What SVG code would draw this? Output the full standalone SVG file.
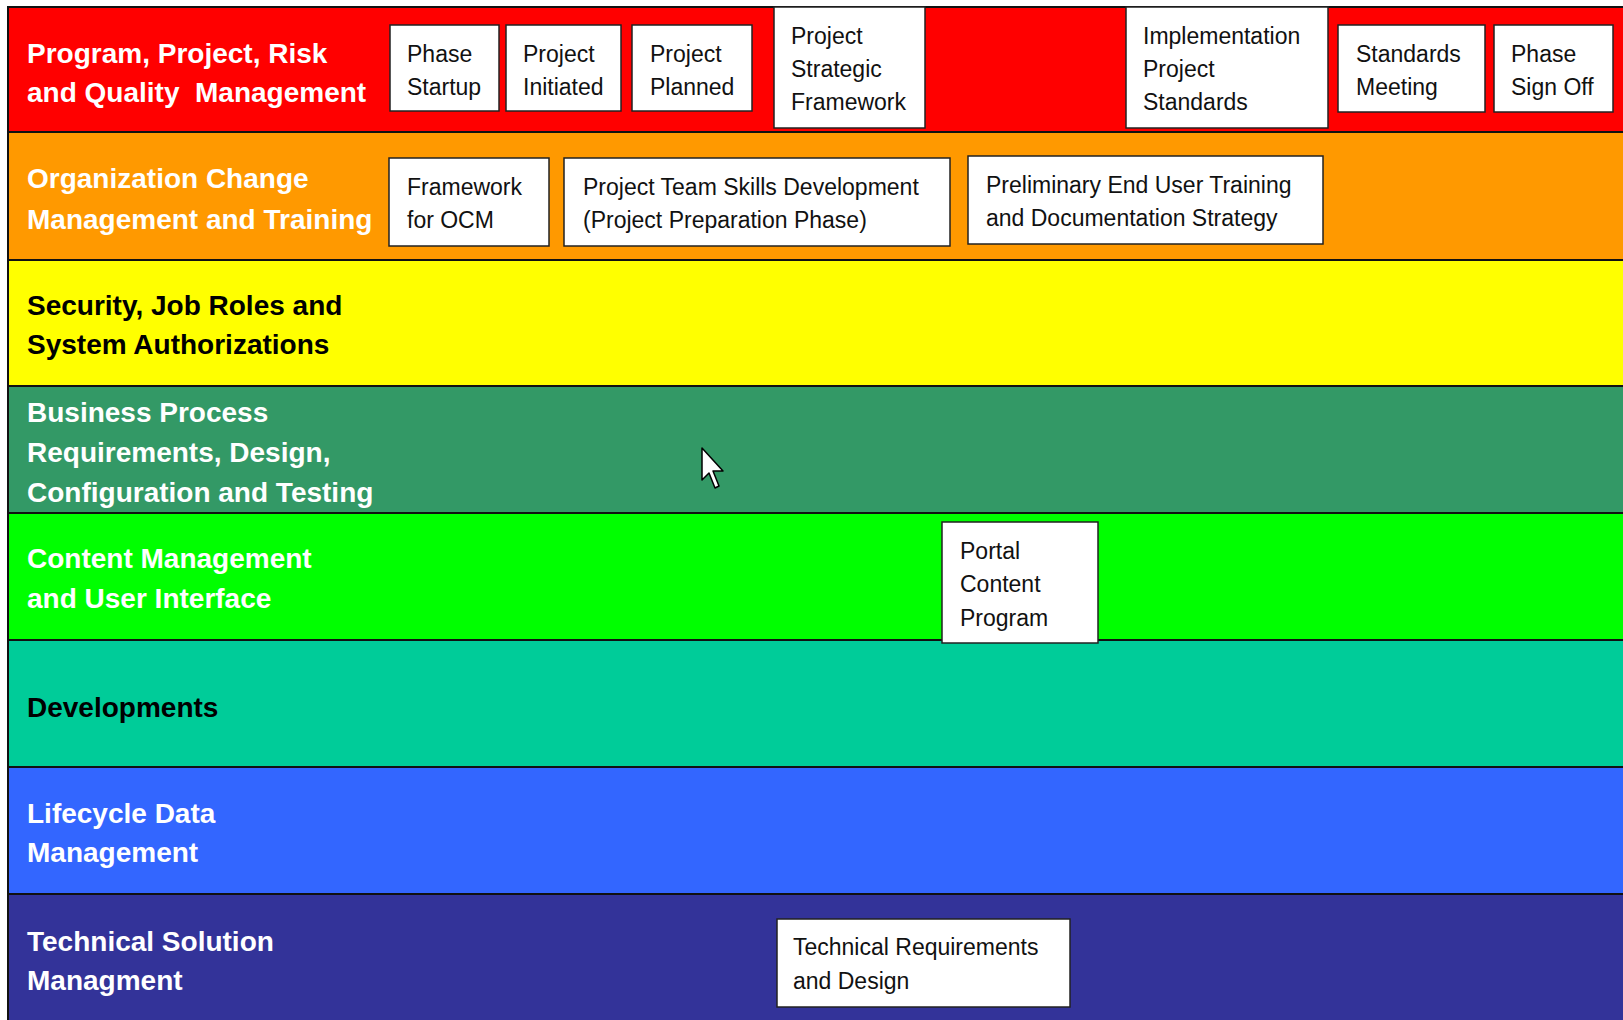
<svg xmlns="http://www.w3.org/2000/svg" width="1623" height="1020" viewBox="0 0 1623 1020">
<style>
.band{stroke:#111;stroke-width:2}
.lbl{font-family:"Liberation Sans",Arial,sans-serif;font-weight:bold;font-size:28px}
.w{fill:#fff}
.k{fill:#000}
.box{fill:#fff;stroke:#222;stroke-width:1.5}
.bt{font-family:"Liberation Sans",Arial,sans-serif;font-size:23px;fill:#111}
</style>
<rect width="1623" height="1020" fill="#fff"/>
<g id="bands">
<g id="band-pm">
<rect class="band" x="8" y="7" width="1620" height="125" fill="#FF0000"/>
<text class="lbl w" x="27" y="63">Program, Project, Risk</text>
<text class="lbl w" x="27" y="102" xml:space="preserve">and Quality  Management</text>
</g>
<g id="band-ocm">
<rect class="band" x="8" y="132" width="1620" height="128" fill="#FF9900"/>
<text class="lbl w" x="27" y="188">Organization Change</text>
<text class="lbl w" x="27" y="229">Management and Training</text>
</g>
<g id="band-sec">
<rect class="band" x="8" y="260" width="1620" height="126" fill="#FFFF00"/>
<text class="lbl k" x="27" y="315">Security, Job Roles and</text>
<text class="lbl k" x="27" y="354">System Authorizations</text>
</g>
<g id="band-bp">
<rect class="band" x="8" y="386" width="1620" height="127" fill="#339966"/>
<text class="lbl w" x="27" y="422">Business Process</text>
<text class="lbl w" x="27" y="462">Requirements, Design,</text>
<text class="lbl w" x="27" y="502">Configuration and Testing</text>
</g>
<g id="band-cm">
<rect class="band" x="8" y="513" width="1620" height="127" fill="#00FF00"/>
<text class="lbl w" x="27" y="568">Content Management</text>
<text class="lbl w" x="27" y="608">and User Interface</text>
</g>
<g id="band-dev">
<rect class="band" x="8" y="640" width="1620" height="127" fill="#00CC99"/>
<text class="lbl k" x="27" y="717">Developments</text>
</g>
<g id="band-ldm">
<rect class="band" x="8" y="767" width="1620" height="127" fill="#3366FF"/>
<text class="lbl w" x="27" y="823">Lifecycle Data</text>
<text class="lbl w" x="27" y="862">Management</text>
</g>
<g id="band-tsm">
<rect class="band" x="8" y="894" width="1620" height="130" fill="#333399"/>
<text class="lbl w" x="27" y="951">Technical Solution</text>
<text class="lbl w" x="27" y="990">Managment</text>
</g>
</g>
<g id="connectors"></g>
<g id="n-phase-startup">
<rect class="box" x="390" y="25" width="109" height="86"/>
<text class="bt" x="407" y="62">Phase</text>
<text class="bt" x="407" y="95">Startup</text>
</g>
<g id="n-project-initiated">
<rect class="box" x="506" y="25" width="115" height="86"/>
<text class="bt" x="523" y="62">Project</text>
<text class="bt" x="523" y="95">Initiated</text>
</g>
<g id="n-project-planned">
<rect class="box" x="632" y="25" width="120" height="86"/>
<text class="bt" x="650" y="62">Project</text>
<text class="bt" x="650" y="95">Planned</text>
</g>
<g id="n-strategic-framework">
<rect class="box" x="774" y="7" width="151" height="121"/>
<text class="bt" x="791" y="44">Project</text>
<text class="bt" x="791" y="77">Strategic</text>
<text class="bt" x="791" y="110">Framework</text>
</g>
<g id="n-impl-standards">
<rect class="box" x="1126" y="7" width="202" height="121"/>
<text class="bt" x="1143" y="44">Implementation</text>
<text class="bt" x="1143" y="77">Project</text>
<text class="bt" x="1143" y="110">Standards</text>
</g>
<g id="n-standards-meeting">
<rect class="box" x="1338" y="25" width="147" height="87"/>
<text class="bt" x="1356" y="62">Standards</text>
<text class="bt" x="1356" y="95">Meeting</text>
</g>
<g id="n-phase-signoff">
<rect class="box" x="1494" y="25" width="119" height="87"/>
<text class="bt" x="1511" y="62">Phase</text>
<text class="bt" x="1511" y="95">Sign Off</text>
</g>
<g id="n-framework-ocm">
<rect class="box" x="389" y="158" width="160" height="88"/>
<text class="bt" x="407" y="195">Framework</text>
<text class="bt" x="407" y="228">for OCM</text>
</g>
<g id="n-team-skills">
<rect class="box" x="564" y="158" width="386" height="88"/>
<text class="bt" x="583" y="195">Project Team Skills Development</text>
<text class="bt" x="583" y="228">(Project Preparation Phase)</text>
</g>
<g id="n-prelim-training">
<rect class="box" x="968" y="156" width="355" height="88"/>
<text class="bt" x="986" y="193">Preliminary End User Training</text>
<text class="bt" x="986" y="226">and Documentation Strategy</text>
</g>
<g id="n-portal-content">
<rect class="box" x="942" y="522" width="156" height="121"/>
<text class="bt" x="960" y="559">Portal</text>
<text class="bt" x="960" y="592">Content</text>
<text class="bt" x="960" y="626">Program</text>
</g>
<g id="n-tech-req">
<rect class="box" x="777" y="919" width="293" height="88"/>
<text class="bt" x="793" y="955">Technical Requirements</text>
<text class="bt" x="793" y="989">and Design</text>
</g>
<path d="M702 448 L702 480 L709 473 L715 488 L719 486 L713 471 L723 471 Z" fill="#fff" stroke="#000" stroke-width="1.5" stroke-linejoin="round"/>
</svg>
